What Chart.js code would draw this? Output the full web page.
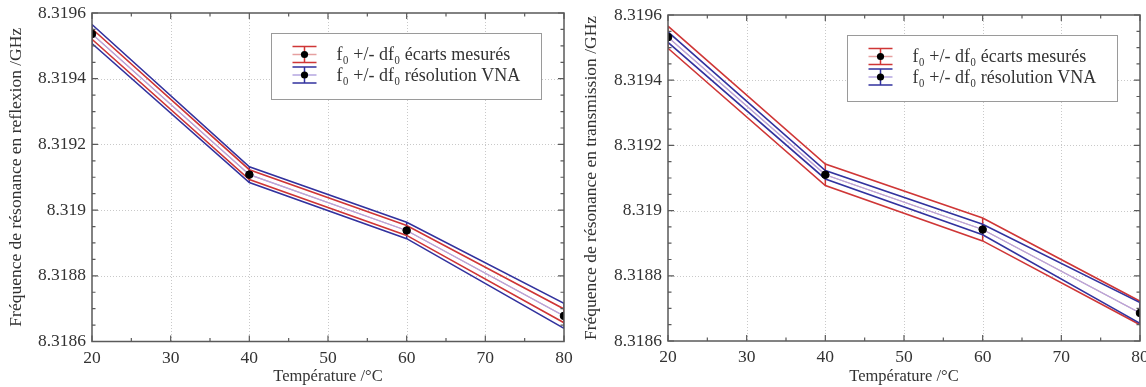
<!DOCTYPE html>
<html><head><meta charset="utf-8">
<script src="https://cdn.jsdelivr.net/npm/chart.js@4.4.0/dist/chart.umd.min.js"></script>
<style>
html,body{margin:0;padding:0;background:#fff;}
#wrap{position:relative;width:1146px;height:387px;overflow:hidden;}
.panel{position:absolute;top:0;width:573px;height:387px;}
canvas{display:block;}
</style></head><body>
<div id="wrap">
<div class="panel" style="left:0"><canvas id="c1" width="573" height="387"></canvas></div>
<div class="panel" style="left:573px"><canvas id="c2" width="573" height="387"></canvas></div>
</div>
<script>
// ---- data ----
const temperatures = [20, 40, 60, 80];
const xTickValues = [20, 30, 40, 50, 60, 70, 80];
const yTickValues = [8.3186, 8.3188, 8.3190, 8.3192, 8.3194, 8.3196];
const yTickLabels = ['8.3186', '8.3188', '8.319', '8.3192', '8.3194', '8.3196'];

const reflexionF0 = [8.319536, 8.319108, 8.318938, 8.318678];
const reflexionDfMesure = [0.000016, 0.000015, 0.000015, 0.000021];
const reflexionDfVNA = [0.000029, 0.000024, 0.000025, 0.000038];

const transmissionF0 = [8.319532, 8.319110, 8.318942, 8.318686];
const transmissionDfMesure = [0.000034, 0.000033, 0.000035, 0.000036];
const transmissionDfVNA = [0.000016, 0.000013, 0.000016, 0.000032];

const legendLabels = ['f\u2080 +/- df\u2080 écarts mesurés', 'f\u2080 +/- df\u2080 résolution VNA'];
const yTitles = ['Fréquence de résonance en reflexion /GHz', 'Fréquence de résonance en transmission /GHz'];
const xTitle = 'Température /°C';

// ---- styles ----
const FONT = "'Liberation Serif', 'Times New Roman', serif";
const RED = '#cf3636';
const BLUE = '#32329e';
const PINK = '#e6a0a0';
const LAV = '#b4a6e0';
const TXT = '#333333';

function pts(vals) { return temperatures.map((t, i) => ({x: t, y: vals[i]})); }
function offs(vals, d, s) { return temperatures.map((t, i) => ({x: t, y: vals[i] + s * d[i]})); }

function makePlugin(cfg) {
  return {
    id: 'frame' + cfg.id,
    beforeDatasetsDraw(chart) {
      const {ctx, chartArea: a, scales: {x, y}} = chart;
      ctx.save();
      ctx.strokeStyle = '#c9c9c9'; ctx.lineWidth = 1; ctx.setLineDash([1, 2]);
      xTickValues.forEach(v => {
        const px = Math.round(x.getPixelForValue(v)) + 0.5;
        if (px > a.left + 2 && px < a.right - 2) { ctx.beginPath(); ctx.moveTo(px, a.top); ctx.lineTo(px, a.bottom); ctx.stroke(); }
      });
      yTickValues.forEach(v => {
        const py = Math.round(y.getPixelForValue(v)) + 0.5;
        if (py > a.top + 2 && py < a.bottom - 2) { ctx.beginPath(); ctx.moveTo(a.left, py); ctx.lineTo(a.right, py); ctx.stroke(); }
      });
      ctx.restore();
      // vertical error bars
      ctx.save();
      ctx.beginPath(); ctx.rect(a.left, a.top, a.right - a.left, a.bottom - a.top); ctx.clip();
      cfg.bars.forEach(b => {
        ctx.strokeStyle = b.color; ctx.lineWidth = 1.5;
        temperatures.forEach((t, i) => {
          const px = x.getPixelForValue(t);
          ctx.beginPath();
          ctx.moveTo(px, y.getPixelForValue(b.f0[i] - b.df[i]));
          ctx.lineTo(px, y.getPixelForValue(b.f0[i] + b.df[i]));
          ctx.stroke();
        });
      });
      ctx.restore();
    },
    afterDatasetsDraw(chart) {
      const {ctx, chartArea: a, scales: {x, y}} = chart;
      ctx.save();
      ctx.strokeStyle = '#5a5a5a'; ctx.lineWidth = 1.2;
      // minor + major ticks, inward on all four sides
      for (let v = 20; v <= 80.001; v += 5) {
        const px = x.getPixelForValue(v);
        const len = (Math.round(v) % 10 === 0) ? 6 : 3.5;
        ctx.beginPath();
        ctx.moveTo(px, a.bottom); ctx.lineTo(px, a.bottom - len);
        ctx.moveTo(px, a.top); ctx.lineTo(px, a.top + len);
        ctx.stroke();
      }
      for (let k = 0; k <= 20; k++) {
        const v = 8.3186 + k * 0.00005;
        const py = y.getPixelForValue(v);
        const len = (k % 4 === 0) ? 6 : 3.5;
        ctx.beginPath();
        ctx.moveTo(a.left, py); ctx.lineTo(a.left + len, py);
        ctx.moveTo(a.right, py); ctx.lineTo(a.right - len, py);
        ctx.stroke();
      }
      ctx.lineWidth = 1.5;
      ctx.strokeRect(a.left, a.top, a.right - a.left, a.bottom - a.top);
      ctx.restore();
    },
    afterDraw(chart) {
      const {ctx, chartArea: a} = chart;
      const bx = Math.round(a.left + 179) + 0.5, by = Math.round(a.top + 20) + 0.5;
      const bw = 270, bh = 66;
      ctx.save();
      ctx.fillStyle = '#ffffff';
      ctx.fillRect(bx, by, bw, bh);
      ctx.strokeStyle = '#9a9a9a'; ctx.lineWidth = 1;
      ctx.strokeRect(bx, by, bw, bh);
      const rows = [
        {color: RED, center: PINK, dy: 21, label: legendLabels[0]},
        {color: BLUE, center: LAV, dy: 41.5, label: legendLabels[1]}
      ];
      rows.forEach(r => {
        const cx = bx + 33, cy = by + r.dy;
        ctx.lineWidth = 1.5;
        ctx.strokeStyle = r.center;
        ctx.beginPath(); ctx.moveTo(cx - 12, cy); ctx.lineTo(cx + 12, cy); ctx.stroke();
        ctx.strokeStyle = r.color;
        ctx.beginPath();
        ctx.moveTo(cx - 12, cy - 8); ctx.lineTo(cx + 12, cy - 8);
        ctx.moveTo(cx - 12, cy + 8); ctx.lineTo(cx + 12, cy + 8);
        ctx.moveTo(cx, cy - 8); ctx.lineTo(cx, cy + 8);
        ctx.stroke();
        ctx.fillStyle = '#000';
        ctx.beginPath(); ctx.arc(cx, cy, 3.6, 0, Math.PI * 2); ctx.fill();
        ctx.fillStyle = TXT;
        ctx.font = '18px ' + FONT;
        ctx.textBaseline = 'middle'; ctx.textAlign = 'left';
        ctx.fillText(r.label, bx + 65, cy + 1);
      });
      ctx.restore();
    }
  };
}

function makeChart(canvasId, idx, f0, dfMes, dfVna, geom) {
  const datasets = [
    {data: pts(f0), borderColor: '#000', backgroundColor: '#000', showLine: false, pointRadius: 3.8, pointHoverRadius: 3.8, clip: 0, order: 0},
    {data: pts(f0), borderColor: PINK, borderWidth: 1.2, pointRadius: 0, order: 6},
    {data: pts(f0), borderColor: LAV, borderWidth: 1.2, pointRadius: 0, order: 5},
    {data: offs(f0, dfMes, 1), borderColor: RED, borderWidth: 1.6, pointRadius: 0, order: geom.redOrder},
    {data: offs(f0, dfMes, -1), borderColor: RED, borderWidth: 1.6, pointRadius: 0, order: geom.redOrder},
    {data: offs(f0, dfVna, 1), borderColor: BLUE, borderWidth: 1.6, pointRadius: 0, order: geom.blueOrder},
    {data: offs(f0, dfVna, -1), borderColor: BLUE, borderWidth: 1.6, pointRadius: 0, order: geom.blueOrder}
  ];
  return new Chart(document.getElementById(canvasId), {
    type: 'line',
    data: {datasets},
    options: {
      responsive: false, animation: false, devicePixelRatio: 1,
      events: [],
      layout: {padding: {left: 0, top: geom.top, right: geom.right, bottom: 0}},
      plugins: {legend: {display: false}, tooltip: {enabled: false}},
      elements: {line: {tension: 0}},
      scales: {
        x: {
          type: 'linear', min: 20, max: 80,
          afterBuildTicks(s) { s.ticks = xTickValues.map(v => ({value: v})); },
          afterFit(s) { s.height = geom.xHeight; s.paddingLeft = 0; s.paddingRight = 0; },
          grid: {display: false, drawTicks: false},
          border: {display: false},
          ticks: {autoSkip: false, maxRotation: 0, padding: 6, color: TXT, font: {family: FONT, size: 17.5}},
          title: {display: true, text: xTitle, color: TXT, font: {family: FONT, size: 16.5}, padding: {top: 0, bottom: 0}}
        },
        y: {
          type: 'linear', min: 8.3186, max: 8.3196,
          afterBuildTicks(s) { s.ticks = yTickValues.map(v => ({value: v})); },
          afterFit(s) { s.width = geom.yWidth; s.paddingTop = 0; s.paddingBottom = 0; },
          grid: {display: false, drawTicks: false},
          border: {display: false},
          ticks: {autoSkip: false, padding: 6, color: TXT, font: {family: FONT, size: 17.5},
                  callback: (v, i) => yTickLabels[i]},
          title: {display: true, text: yTitles[idx], color: TXT, font: {family: FONT, size: 17.5}, padding: {top: geom.titlePad, bottom: 0}}
        }
      }
    },
    plugins: [makePlugin({
      id: idx,
      bars: [
        {color: geom.redOrder > geom.blueOrder ? RED : BLUE, f0: f0, df: geom.redOrder > geom.blueOrder ? dfMes : dfVna},
        {color: geom.redOrder > geom.blueOrder ? BLUE : RED, f0: f0, df: geom.redOrder > geom.blueOrder ? dfVna : dfMes}
      ]
    })]
  });
}

makeChart('c1', 0, reflexionF0, reflexionDfMesure, reflexionDfVNA,
  {top: 13, right: 9, xHeight: 45.5, yWidth: 92, titlePad: 6, redOrder: 3, blueOrder: 4});
makeChart('c2', 1, transmissionF0, transmissionDfMesure, transmissionDfVNA,
  {top: 15, right: 6, xHeight: 46, yWidth: 95, titlePad: 8, redOrder: 4, blueOrder: 3});
</script>
</body></html>
